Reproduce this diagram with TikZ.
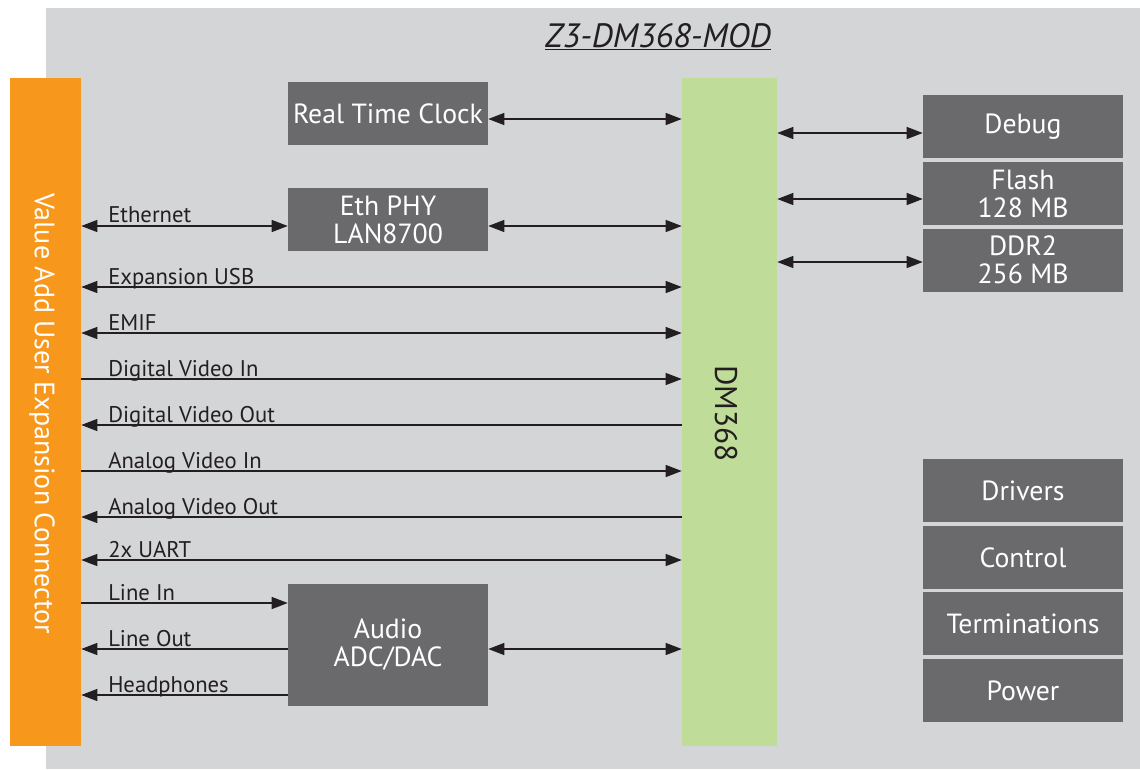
\documentclass[tikz,border=0pt]{standalone}
\usepackage{fontspec}
\setmainfont{PT Sans}
\usetikzlibrary{arrows.meta}
\definecolor{bggray}{HTML}{D4D5D7}
\definecolor{conorange}{HTML}{F7981D}
\definecolor{dmgreen}{HTML}{BFDC98}
\definecolor{boxgray}{HTML}{6A6A6C}
\definecolor{ink}{HTML}{231F20}
\begin{document}
\begin{tikzpicture}[x=0.75pt,y=-0.75pt,
  >={Triangle[length=12pt,width=9pt]},
  blk/.style={fill=boxgray, text=white, minimum width=150pt, minimum height=47.25pt,
    inner sep=0pt, align=center, font=\fontsize{20.8}{21}\selectfont},
  lbl/.style={anchor=base west, inner sep=0pt, text=ink, font=\fontsize{17}{19}\selectfont},
  link/.style={draw=ink, line width=0.9pt}
]
\useasboundingbox (0,0) rectangle (1140,769);
\fill[bggray] (46,8) rectangle (1140,769);

% title
\node[anchor=base, inner sep=0pt, text=ink, font=\fontsize{25.3}{27}\selectfont\itshape] (title) at (658,47) {\underline{Z3-DM368-MOD}};

% main blocks
\node[fill=conorange, minimum width=53.25pt, minimum height=501pt, inner sep=0pt] (con) at (45.5,412) {};
\node[rotate=-90, text=white, inner sep=0pt, font=\fontsize{21}{23}\selectfont] (context) at (42,413.5) {Value Add User Expansion Connector};
\node[fill=dmgreen, minimum width=71.25pt, minimum height=501pt, inner sep=0pt] (dm) at (729.5,412) {};
\node[rotate=-90, text=ink, inner sep=0pt, font=\fontsize{23.5}{25}\selectfont] (dmtext) at (726,413.5) {DM368};

\node[blk] (rtc) at (388,113.5) {Real Time Clock};
\node[blk] (eth) at (388,219.5) {Eth PHY\\LAN8700};
\node[blk, minimum height=91.5pt] (audio) at (388,645) {Audio\\ADC/DAC};

\node[blk] (debug) at (1023,126.5) {Debug};
\node[blk] (flash) at (1023,193.5) {Flash\\128 MB};
\node[blk] (ddr) at (1023,260) {DDR2\\256 MB};

\node[blk] (drivers) at (1023,490.5) {Drivers};
\node[blk] (control) at (1023,557.5) {Control};
\node[blk] (term) at (1023,623.5) {Terminations};
\node[blk] (power) at (1023,690.5) {Power};

% helper levels
\coordinate (yrtc) at (0,119);
\coordinate (yeth) at (0,226);
\coordinate (yusb) at (0,287);
\coordinate (yemif) at (0,333);
\coordinate (ydvi) at (0,379);
\coordinate (ydvo) at (0,425);
\coordinate (yavi) at (0,471);
\coordinate (yavo) at (0,517);
\coordinate (yuart) at (0,560);
\coordinate (ylin) at (0,603);
\coordinate (ylout) at (0,649);
\coordinate (yhp) at (0,695);
\coordinate (ydbg) at (0,133);
\coordinate (yfl) at (0,199);
\coordinate (yddr) at (0,262);

% connectors
\draw[link,<->] (rtc.east |- yrtc) -- (dm.west |- yrtc);
\draw[link,<->] (con.east |- yeth) -- (eth.west |- yeth);
\draw[link,<->] (eth.east |- yeth) -- (dm.west |- yeth);
\draw[link,<->] (con.east |- yusb) -- (dm.west |- yusb);
\draw[link,<->] (con.east |- yemif) -- (dm.west |- yemif);
\draw[link,->] (con.east |- ydvi) -- (dm.west |- ydvi);
\draw[link,<-] (con.east |- ydvo) -- (dm.west |- ydvo);
\draw[link,->] (con.east |- yavi) -- (dm.west |- yavi);
\draw[link,<-] (con.east |- yavo) -- (dm.west |- yavo);
\draw[link,<->] (con.east |- yuart) -- (dm.west |- yuart);
\draw[link,->] (con.east |- ylin) -- (audio.west |- ylin);
\draw[link,<-] (con.east |- ylout) -- (audio.west |- ylout);
\draw[link,<-] (con.east |- yhp) -- (audio.west |- yhp);
\draw[link,<->] (audio.east |- ylout) -- (dm.west |- ylout);
\draw[link,<->] (dm.east |- ydbg) -- (debug.west |- ydbg);
\draw[link,<->] (dm.east |- yfl) -- (flash.west |- yfl);
\draw[link,<->] (dm.east |- yddr) -- (ddr.west |- yddr);

% labels
\node[lbl] (l1) at (108,222) {Ethernet};
\node[lbl] (l2) at (108,284) {Expansion USB};
\node[lbl] (l3) at (108,330) {EMIF};
\node[lbl] (l4) at (108,376) {Digital Video In};
\node[lbl] (l5) at (108,422) {Digital Video Out};
\node[lbl] (l6) at (108,468) {Analog Video In};
\node[lbl] (l7) at (108,514) {Analog Video Out};
\node[lbl] (l8) at (108,557) {2x UART};
\node[lbl] (l9) at (108,600) {Line In};
\node[lbl] (l10) at (108,646) {Line Out};
\node[lbl] (l11) at (108,692) {Headphones};
\end{tikzpicture}
\end{document}
